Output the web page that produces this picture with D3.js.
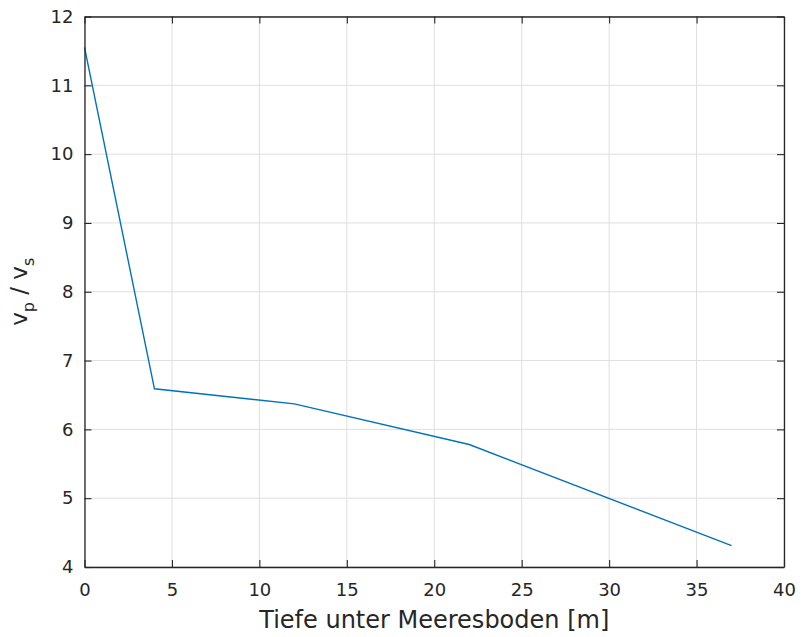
<!DOCTYPE html>
<html><head><meta charset="utf-8">
<script src="https://cdn.jsdelivr.net/npm/d3@7"></script>
<style>body{margin:0;background:#fff}svg{display:block}text{font-family:"DejaVu Sans",sans-serif;fill:#262626}</style>
</head><body>
<script>
const depth = [0, 4, 12, 22, 37];
const vpvs = [11.55, 6.59, 6.37, 5.78, 4.31];
const xTicks = [0, 5, 10, 15, 20, 25, 30, 35, 40];
const yTicks = [4, 5, 6, 7, 8, 9, 10, 11, 12];

const W = 801, H = 637;
const m = {l: 84.5, t: 16.5, r: 801 - 784, b: 637 - 567};
const svg = d3.select("body").append("svg").attr("width", W).attr("height", H);
const x = d3.scaleLinear().domain([0, 40]).range([m.l, W - m.r]);
const y = d3.scaleLinear().domain([4, 12]).range([H - m.b, m.t]);
const ax = "#262626";

// grid
svg.append("g").selectAll("line").data(xTicks).join("line")
  .attr("x1", d => x(d)).attr("x2", d => x(d)).attr("y1", y(4)).attr("y2", y(12))
  .attr("stroke", "#dfdfdf").attr("stroke-width", 1);
svg.append("g").selectAll("line").data(yTicks).join("line")
  .attr("x1", x(0)).attr("x2", x(40)).attr("y1", d => y(d)).attr("y2", d => y(d))
  .attr("stroke", "#dfdfdf").attr("stroke-width", 1);

// line
svg.append("path").datum(depth.map((d, i) => [d, vpvs[i]]))
  .attr("d", d3.line().x(d => x(d[0])).y(d => y(d[1])))
  .attr("fill", "none").attr("stroke", "#0072BD").attr("stroke-width", 1.4);

// axes
const tl = 7;
const gx = svg.append("g").attr("transform", `translate(0,${y(4)})`)
  .call(d3.axisBottom(x).tickValues(xTicks).tickSizeInner(-tl).tickSizeOuter(0).tickPadding(16));
const gxt = svg.append("g").attr("transform", `translate(0,${y(12)})`)
  .call(d3.axisTop(x).tickValues(xTicks).tickSizeInner(-tl).tickSizeOuter(0).tickFormat(""));
const gy = svg.append("g").attr("transform", `translate(${x(0)},0)`)
  .call(d3.axisLeft(y).tickValues(yTicks).tickSizeInner(-tl).tickSizeOuter(0).tickPadding(11));
const gyr = svg.append("g").attr("transform", `translate(${x(40)},0)`)
  .call(d3.axisRight(y).tickValues(yTicks).tickSizeInner(-tl).tickSizeOuter(0).tickFormat(""));
[gx, gxt, gy, gyr].forEach(g => {
  g.selectAll("path").attr("stroke", ax).attr("stroke-width", 1.3);
  g.selectAll("line").attr("stroke", ax).attr("stroke-width", 1.1);
  g.selectAll("text").attr("font-size", 18).attr("font-family", "DejaVu Sans").attr("fill", ax);
});
gx.selectAll("text").attr("dy", "0.71em");

// labels
svg.append("text").attr("x", x(20)).attr("y", 628).attr("text-anchor", "middle")
  .attr("font-size", 24).text("Tiefe unter Meeresboden [m]");
const yl = svg.append("text").attr("transform", `translate(27,${y(8)}) rotate(-90)`)
  .attr("text-anchor", "middle").attr("font-size", 23);
yl.append("tspan").text("v");
yl.append("tspan").attr("font-size", 16).attr("dy", 7).text("p");
yl.append("tspan").attr("dy", -7).text(" / v");
yl.append("tspan").attr("font-size", 16).attr("dy", 7).text("s");
</script>
</body></html>
